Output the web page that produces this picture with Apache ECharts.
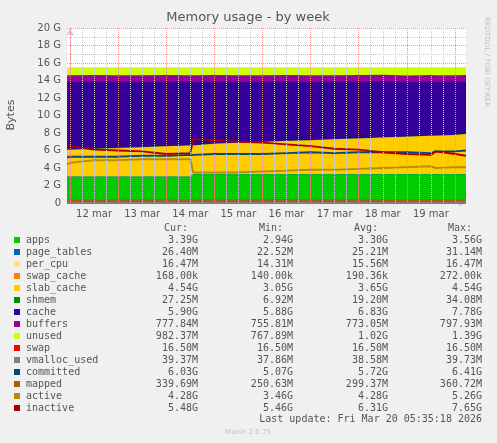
<!DOCTYPE html>
<html><head><meta charset="utf-8">
<script src="https://cdn.jsdelivr.net/npm/echarts@6/dist/echarts.min.js"></script>
<style>html,body{margin:0;padding:0;background:#f0f0f0}#c{width:497px;height:443px}</style>
</head><body><div id="c"></div>
<script>
// days since 12 mar 00:00
const times = [-0.06,0,0.5,1,1.5,2,2.5,2.56,3,3.5,4,4.5,5,5.5,6,6.5,7,7.5,7.6,8,8.23];
const dayLabels = ['12 mar','13 mar','14 mar','15 mar','16 mar','17 mar','18 mar','19 mar'];
const apps = [3.0,3.0,3.0,3.0,3.0,3.0,3.0,3.3,3.3,3.3,3.3,3.3,3.3,3.3,3.3,3.3,3.3,3.3,3.3,3.3,3.3];
const page_tables = times.map(()=>0.025);
const per_cpu = times.map(()=>0.016);
const swap_cache = times.map(()=>0.0002);
const slab_cache = [3.04,3.04,3.14,3.24,3.34,3.44,3.54,3.24,3.44,3.54,3.64,3.74,3.84,3.94,4.04,4.14,4.24,4.34,4.34,4.44,4.54];
const shmem = times.map(()=>0.02);
const cache = [7.75,7.72,7.65,7.55,7.42,7.35,7.25,7.2,7.05,6.92,6.85,6.75,6.62,6.55,6.45,6.38,6.22,6.15,6.12,6.05,5.95];
const buffers = [0.76,0.78,0.77,0.76,0.78,0.77,0.76,0.79,0.78,0.77,0.76,0.78,0.77,0.76,0.78,0.77,0.76,0.78,0.77,0.76,0.78];
const unused = [0.89,0.90,0.88,0.89,0.90,0.88,0.89,0.91,0.87,0.91,0.89,0.87,0.91,0.89,0.87,0.85,0.92,0.87,0.91,0.89,0.87];
const swap = times.map(()=>0.0165);
const vmalloc_used = times.map(()=>0.039);
const committed = [5.2,5.3,5.3,5.3,5.4,5.4,5.5,5.5,5.6,5.6,5.6,5.7,5.8,5.7,5.8,5.8,5.8,5.7,5.9,5.9,6.0];
const mapped = [0.3,0.3,0.25,0.3,0.28,0.3,0.26,0.3,0.3,0.28,0.3,0.32,0.3,0.3,0.28,0.3,0.3,0.32,0.3,0.3,0.34];
const active = [4.4,4.6,4.9,4.9,5.0,5.0,5.0,3.5,3.5,3.5,3.6,3.7,3.8,3.8,3.9,4.0,4.1,4.2,4.0,4.1,4.1];
const inactive = [6.6,6.5,6.1,6.0,5.9,5.6,5.7,7.3,7.2,7.0,6.9,6.7,6.5,6.2,6.1,5.8,5.6,5.5,5.9,5.6,5.4];

const legendRows = [
 ['apps','#00CC00','3.39G','2.94G','3.30G','3.56G'],
 ['page_tables','#0066B3','26.40M','22.52M','25.21M','31.14M'],
 ['per_cpu','#FFE080','16.47M','14.31M','15.56M','16.47M'],
 ['swap_cache','#FF8000','168.00k','140.00k','190.36k','272.00k'],
 ['slab_cache','#FFCC00','4.54G','3.05G','3.65G','4.54G'],
 ['shmem','#008F00','27.25M','6.92M','19.20M','34.08M'],
 ['cache','#330099','5.90G','5.88G','6.83G','7.78G'],
 ['buffers','#990099','777.84M','755.81M','773.05M','797.93M'],
 ['unused','#CCFF00','982.37M','767.89M','1.02G','1.39G'],
 ['swap','#FF0000','16.50M','16.50M','16.50M','16.50M'],
 ['vmalloc_used','#808080','39.37M','37.86M','38.58M','39.73M'],
 ['committed','#00487D','6.03G','5.07G','5.72G','6.41G'],
 ['mapped','#B35A00','339.69M','250.63M','299.37M','360.72M'],
 ['active','#B38F00','4.28G','3.46G','4.28G','5.26G'],
 ['inactive','#AA0000','5.48G','5.46G','6.31G','7.65G']
];
const stacked = {apps,page_tables,per_cpu,swap_cache,slab_cache,shmem,cache,buffers,unused};
const lines = {swap,vmalloc_used,committed,mapped,active,inactive};
const colorOf = Object.fromEntries(legendRows.map(r=>[r[0],r[1]]));
const pair = a => a.map((v,i)=>[times[i],v]);

const vgrid = [];
for (let h=0; h<=8.25*24; h+=6) {
  const d=h/24; if (d>8.24) break;
  vgrid.push({xAxis:d, lineStyle:{color: (h%24===0) ? '#e89090':'#d0d0d0', type:'dotted', width:1}});
}
const series = [];
series.push({type:'line',data:[],silent:true,z:1,markLine:{silent:true,symbol:'none',label:{show:false},data:vgrid}});
const keys = Object.keys(stacked);
let cum = times.map(()=>0);
const tops = keys.map(k=>{ cum = cum.map((c,i)=>c+stacked[k][i]); return cum.slice(); });
const areas = keys.map((k,j)=>({name:k,type:'line',data:pair(tops[j]),symbol:'none',
  lineStyle:{width:0},areaStyle:{color:colorOf[k],opacity:1},itemStyle:{color:colorOf[k]},emphasis:{disabled:true}}));
areas.reverse().forEach((s,i)=>{ s.z = 2+i*0.01; series.push(s); });
Object.entries(lines).forEach(([k,a])=>series.push({name:k,type:'line',data:pair(a),symbol:'none',
  lineStyle:{width:2,color:colorOf[k]},itemStyle:{color:colorOf[k]},z:4}));

const F='"DejaVu Sans Mono"';
const g=[];
const cols=[198,293,388,482];
['Cur:','Min:','Avg:','Max:'].forEach((t,i)=>g.push({type:'text',x:cols[i]-10,y:228,style:{text:t,font:'10px '+F,fill:'#555',align:'right',verticalAlign:'middle'}}));
legendRows.forEach((r,j)=>{
  const y=240+j*12;
  g.push({type:'rect',shape:{x:14,y:y-3,width:6,height:6},style:{fill:r[1]}});
  g.push({type:'text',x:26,y:y,style:{text:r[0],font:'10px '+F,fill:'#555',verticalAlign:'middle'}});
  for(let i=0;i<4;i++) g.push({type:'text',x:cols[i],y:y,style:{text:r[i+2],font:'10px '+F,fill:'#555',align:'right',verticalAlign:'middle'}});
});
g.push({type:'text',x:482,y:419,style:{text:'Last update: Fri Mar 20 05:35:18 2026',font:'10px '+F,fill:'#555',align:'right',verticalAlign:'middle'}});
g.push({type:'text',x:248,y:432,style:{text:'Munin 2.0.75',font:'7px "DejaVu Sans"',fill:'#c0c0c0',align:'center',verticalAlign:'middle'}});
g.push({type:'text',x:248,y:18,style:{text:'Memory usage - by week',font:'13px "DejaVu Sans"',fill:'#555',align:'center',verticalAlign:'middle'}});
g.push({type:'text',x:11,y:115,rotation:Math.PI/2,style:{text:'Bytes',font:'11px "DejaVu Sans"',fill:'#555',align:'center',verticalAlign:'middle'}});
g.push({type:'text',x:487,y:62,rotation:-Math.PI/2,style:{text:'RRDTOOL / TOBI OETIKER',font:'7px "DejaVu Sans"',fill:'#c0c0c0',align:'center',verticalAlign:'middle'}});

const chart=echarts.init(document.getElementById('c'));
chart.setOption({
  animation:false, backgroundColor:'#f0f0f0',
  grid:{left:67,right:31,top:28,bottom:240,show:true,backgroundColor:'#fff',borderWidth:0},
  xAxis:{type:'value',min:-0.0625,max:8.23,
    axisLine:{lineStyle:{color:'#c8c8f0'},symbol:['none','arrow'],symbolSize:[6,8]},
    axisTick:{show:false},splitLine:{show:false},
    axisLabel:{customValues:dayLabels.map((_,i)=>i+0.5),formatter:v=>dayLabels[Math.round(v-0.5)],color:'#555',fontSize:10,fontFamily:'DejaVu Sans',margin:6}},
  yAxis:{type:'value',min:0,max:20,interval:2,
    axisLine:{show:true,lineStyle:{color:'#c8c8f0'},symbol:['none','arrow'],symbolSize:[6,8]},
    axisTick:{show:false},
    axisLabel:{formatter:v=>v===0?'0':v+' G',color:'#555',fontSize:10,fontFamily:'DejaVu Sans',margin:6},
    splitLine:{show:true,lineStyle:{color:'#e8a0a0',type:'dotted'}},
    minorTick:{show:false,splitNumber:2},
    minorSplitLine:{show:true,lineStyle:{color:'#c8c8c8',type:'dotted'}}},
  series, graphic:g
});
</script></body></html>
